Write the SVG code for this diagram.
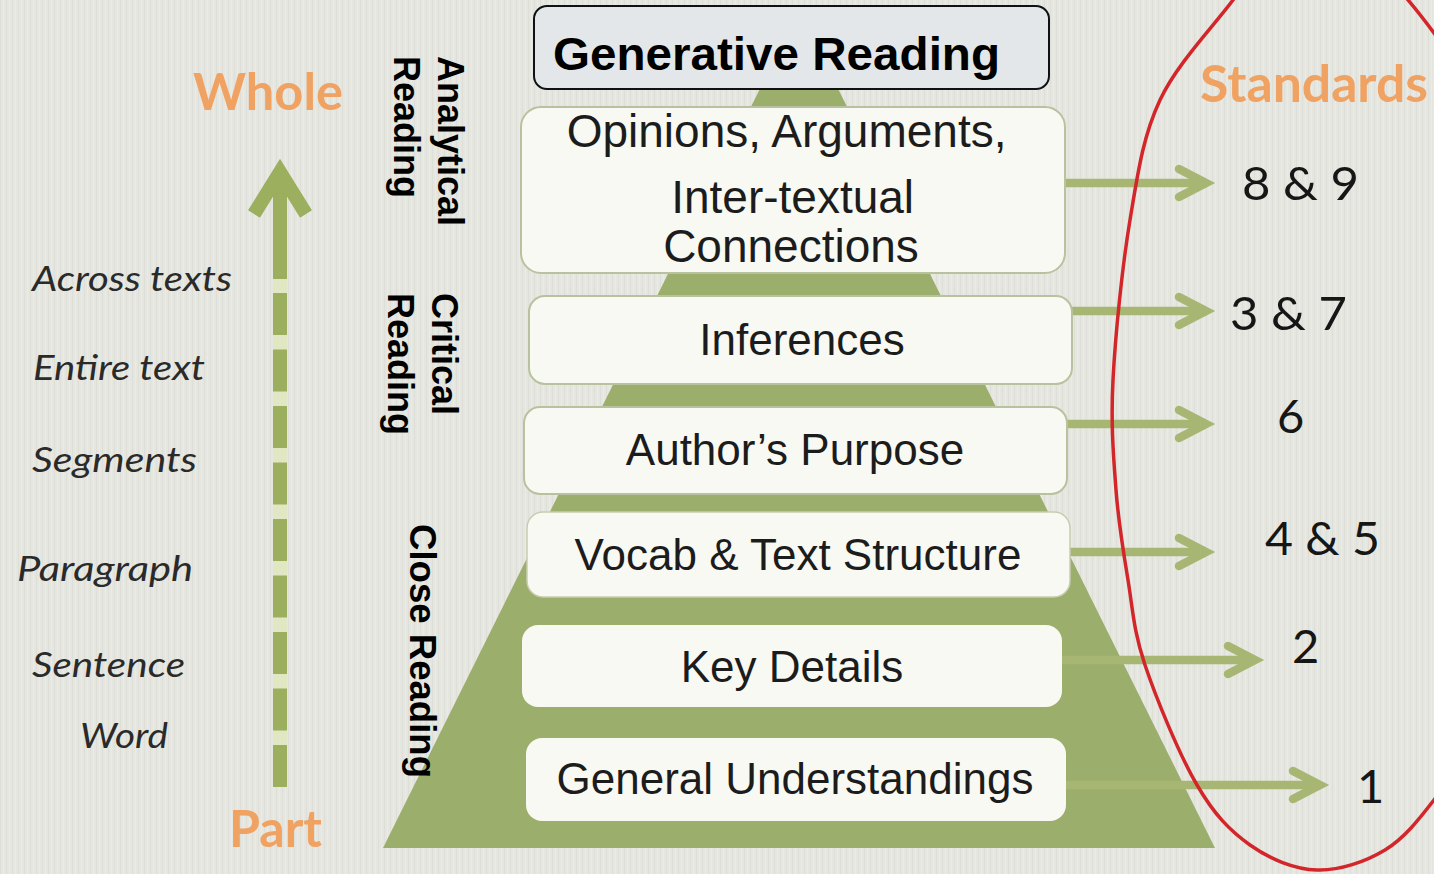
<svg xmlns="http://www.w3.org/2000/svg" width="1434" height="874" viewBox="0 0 1434 874">
  <defs>
    <pattern id="stripes" width="6" height="10" patternUnits="userSpaceOnUse">
      <rect width="6" height="10" fill="#e5e6e0"/>
      <rect x="0" width="1" height="10" fill="#d9dbd3" opacity="0.6"/>
      <rect x="3" width="1" height="10" fill="#eeefe9" opacity="0.6"/>
    </pattern>
    <marker id="chev" markerUnits="userSpaceOnUse" markerWidth="44" markerHeight="44" viewBox="-36 -22 44 44" refX="0" refY="0" orient="auto" overflow="visible">
      <path d="M-27,-14 L0,0 L-27,14" fill="none" stroke="#a7b672" stroke-width="8.5" stroke-linecap="round" stroke-linejoin="miter"/>
    </marker>
    <style>
      .lvl { fill: #f8f9f3; }
      .lvl-edge { stroke: #b9c29e; stroke-width: 2; }
      .lvl-text { font-family: "Liberation Sans", Arial, sans-serif; font-size: 44px; fill: #1c1c1c; text-anchor: middle; }
      .side { font-family: "Liberation Sans", Arial, sans-serif; font-size: 36px; font-weight: bold; fill: #000; }
      .scale { font-family: Lato, "Open Sans", sans-serif; font-style: italic; font-size: 35px; fill: #2a2a2a; }
      .head { font-family: Lato, "Open Sans", sans-serif; font-weight: bold; font-size: 52px; fill: #f0a262; }
      .std { font-family: Lato, "Open Sans", sans-serif; font-size: 47px; fill: #161616; }
      .link { stroke: #a7b672; stroke-width: 8.5; fill: none; marker-end: url(#chev); }
    </style>
  </defs>

  <!-- background -->
  <rect width="1434" height="874" fill="url(#stripes)"/>

  <!-- pyramid -->
  <g id="pyramid">
    <polygon points="799,10 1215,848 383,848" fill="#9cae6c"/>
  </g>

  <!-- part-to-whole axis -->
  <g id="axis">
    <text class="head" x="193" y="110" textLength="150" lengthAdjust="spacingAndGlyphs">Whole</text>
    <line x1="280" y1="787" x2="280" y2="180" stroke="#e1e7c2" stroke-width="14"/>
    <line x1="280" y1="787" x2="280" y2="293" stroke="#9caf5e" stroke-width="14" stroke-dasharray="42 14.5"/>
    <line x1="280" y1="279" x2="280" y2="178" stroke="#9caf5e" stroke-width="14"/>
    <polyline points="254,214 280,172 306,214" fill="none" stroke="#9caf5e" stroke-width="14" stroke-linejoin="miter" stroke-miterlimit="6"/>
    <text class="head" x="229" y="847" textLength="93" lengthAdjust="spacingAndGlyphs">Part</text>
  </g>

  <g id="scale-labels">
    <text class="scale" x="32" y="291" textLength="200" lengthAdjust="spacingAndGlyphs">Across texts</text>
    <text class="scale" x="33" y="380" textLength="172" lengthAdjust="spacingAndGlyphs">Entire text</text>
    <text class="scale" x="32" y="472" textLength="165" lengthAdjust="spacingAndGlyphs">Segments</text>
    <text class="scale" x="17" y="581" textLength="176" lengthAdjust="spacingAndGlyphs">Paragraph</text>
    <text class="scale" x="32" y="677" textLength="153" lengthAdjust="spacingAndGlyphs">Sentence</text>
    <text class="scale" x="80" y="748" textLength="88" lengthAdjust="spacingAndGlyphs">Word</text>
  </g>

  <!-- reading-type labels (rotated) -->
  <g id="analytical-reading">
    <text class="side" transform="translate(438,56) rotate(90)">
      <tspan x="0" y="0">Analytical</tspan>
      <tspan x="0" y="44">Reading</tspan>
    </text>
  </g>
  <g id="critical-reading">
    <text class="side" transform="translate(432,293) rotate(90)">
      <tspan x="0" y="0">Critical</tspan>
      <tspan x="0" y="44">Reading</tspan>
    </text>
  </g>
  <g id="close-reading">
    <text class="side" transform="translate(410,524) rotate(90)" textLength="254" lengthAdjust="spacingAndGlyphs">Close Reading</text>
  </g>

  <!-- connectors to standards -->
  <g id="connectors">
    <line class="link" x1="1065" y1="183" x2="1206" y2="183"/>
    <line class="link" x1="1066" y1="311" x2="1206" y2="311"/>
    <line class="link" x1="1064" y1="424" x2="1206" y2="424"/>
    <line class="link" x1="1066" y1="552" x2="1206" y2="552"/>
    <line class="link" x1="1062" y1="660" x2="1255" y2="660"/>
    <line class="link" x1="1066" y1="785" x2="1320" y2="785"/>
  </g>

  <!-- pyramid levels -->
  <g id="generative-reading">
    <rect x="534" y="6" width="515" height="83" rx="13" fill="#e3e7e9" stroke="#111" stroke-width="2"/>
    <text x="553" y="70" font-family="'Liberation Sans', Arial, sans-serif" font-size="47" font-weight="bold" fill="#000" textLength="447" lengthAdjust="spacingAndGlyphs">Generative Reading</text>
  </g>
  <g id="level-opinions">
    <rect class="lvl lvl-edge" x="521" y="107" width="544" height="166" rx="20"/>
    <text class="lvl-text" style="font-size:46px">
      <tspan x="793" y="147">Opinions, Arguments,</tspan>
      <tspan x="799" y="213">Inter-textual</tspan>
      <tspan x="791" y="262">Connections</tspan>
    </text>
  </g>
  <g id="level-inferences">
    <rect class="lvl lvl-edge" x="529" y="296" width="543" height="88" rx="16"/>
    <text class="lvl-text" x="802" y="355">Inferences</text>
  </g>
  <g id="level-purpose">
    <rect class="lvl lvl-edge" x="524" y="407" width="543" height="87" rx="16"/>
    <text class="lvl-text" x="795" y="465">Author’s Purpose</text>
  </g>
  <g id="level-vocab">
    <rect class="lvl" x="527" y="512" width="543" height="85" rx="16" stroke="#c6cdb0" stroke-width="1.5"/>
    <text class="lvl-text" x="798" y="570">Vocab &amp; Text Structure</text>
  </g>
  <g id="level-details">
    <rect class="lvl" x="522" y="625" width="540" height="82" rx="16"/>
    <text class="lvl-text" x="792" y="682">Key Details</text>
  </g>
  <g id="level-general">
    <rect class="lvl" x="526" y="738" width="540" height="83" rx="16"/>
    <text class="lvl-text" x="795" y="794">General Understandings</text>
  </g>

  <!-- standards -->
  <g id="standards">
    <text class="head" x="1200" y="102" textLength="228" lengthAdjust="spacingAndGlyphs">Standards</text>
    <text class="std" x="1242" y="200" textLength="117" lengthAdjust="spacingAndGlyphs">8 &amp; 9</text>
    <text class="std" x="1230" y="330" textLength="117" lengthAdjust="spacingAndGlyphs">3 &amp; 7</text>
    <text class="std" x="1277" y="433">6</text>
    <text class="std" x="1265" y="555" textLength="115" lengthAdjust="spacingAndGlyphs">4 &amp; 5</text>
    <text class="std" x="1292" y="663">2</text>
    <text class="std" x="1357" y="803">1</text>
  </g>

  <!-- highlight loop round the standards -->
  <g id="standards-loop" fill="none" stroke="#d3262a" stroke-width="3.5">
    <path d="M1262,-40 C1257.2,-33.3 1250,-23.3 1233,0 C1216,23.3 1177.2,63.3 1160,100 C1142.8,136.7 1137.8,173.3 1130,220 C1122.2,266.7 1115.3,335 1113,380 C1110.7,425 1113.5,456.7 1116,490 C1118.5,523.3 1123.2,550.8 1128,580 C1132.8,609.2 1133.5,630.8 1145,665 C1156.5,699.2 1179.5,755 1197,785 C1214.5,815 1230,830.8 1250,845 C1270,859.2 1294.5,869.2 1317,870 C1339.5,870.8 1365.5,861.7 1385,850 C1404.5,838.3 1419.8,818.3 1434,800 C1448.2,781.7 1464,750 1470,740"/>
    <path d="M1392,-18 Q1414,5 1442,44"/>
  </g>
</svg>
